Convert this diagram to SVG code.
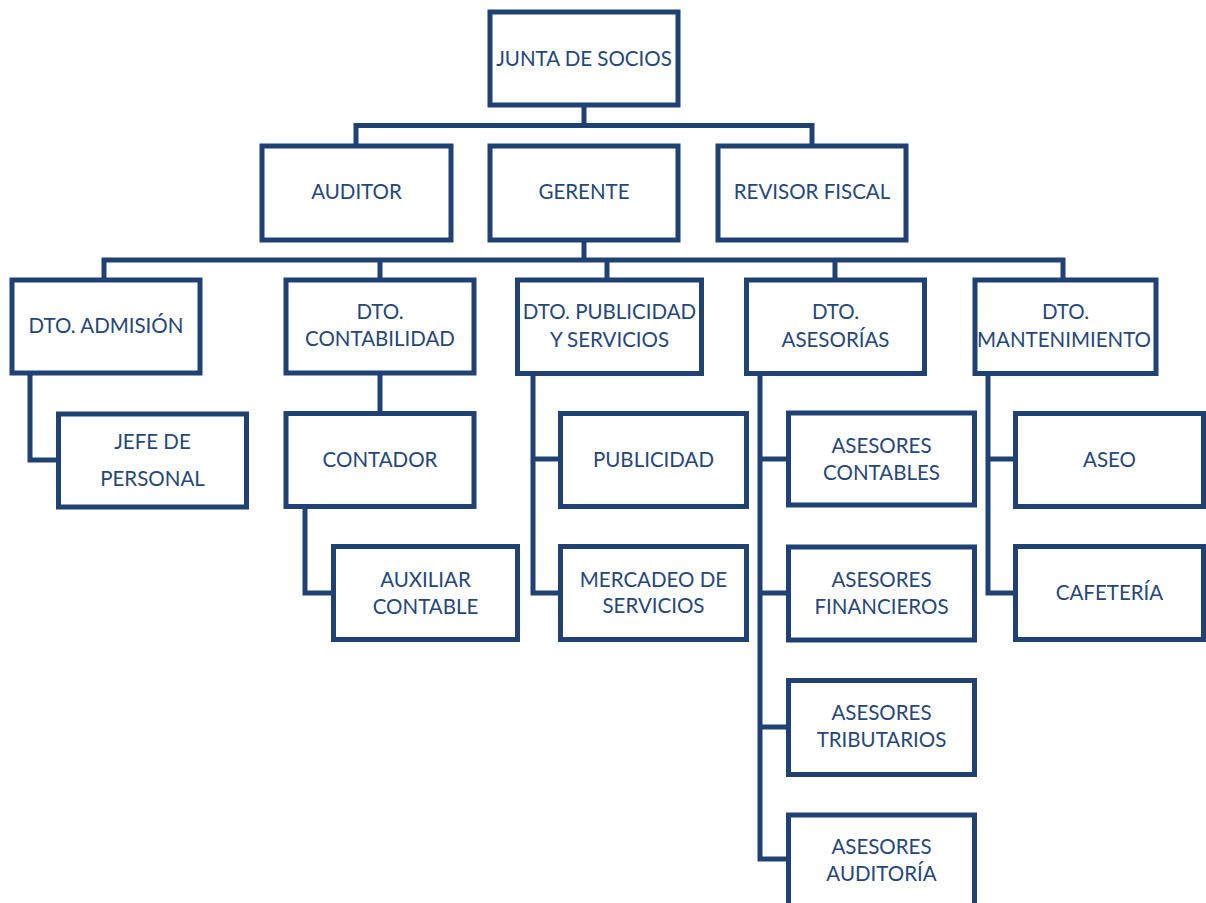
<svg xmlns="http://www.w3.org/2000/svg" width="1206" height="903" viewBox="0 0 1206 903">
<style>
.box{fill:#ffffff;stroke:#1f4174;stroke-width:5}
.con{fill:none;stroke:#1f4174;stroke-width:5;stroke-linejoin:miter;stroke-linecap:square}
text{font-family:Lato,"Open Sans","Liberation Sans",sans-serif;font-size:20.5px;fill:#26477a;text-anchor:middle}
</style>
<rect width="1206" height="903" fill="#ffffff"/>
<g id="connectors">
<path class="con" d="M584,105 V125.5 M356,146 V125.5 H812 V146"/>
<path class="con" d="M584,240 V260 M104,280 V260 H1063 V280 M380,260 V280 M607,260 V280 M835,260 V280"/>
<path class="con" d="M30,373 V460 H58"/>
<path class="con" d="M380,373 V413"/>
<path class="con" d="M305,506 V593 H333"/>
<path class="con" d="M533,373 V593 H560 M533,459 H560"/>
<path class="con" d="M760,373 V859 H788 M760,459 H788 M760,593 H788 M760,727 H788"/>
<path class="con" d="M988,373 V593 H1015 M988,459 H1015"/>
</g>
<g id="junta"><rect class="box" x="490" y="12" width="188" height="93"/><text x="584" y="66">JUNTA DE SOCIOS</text></g>
<g id="auditor"><rect class="box" x="262" y="146" width="189" height="94"/><text x="356.5" y="199">AUDITOR</text></g>
<g id="gerente"><rect class="box" x="490" y="146" width="188" height="94"/><text x="584" y="199">GERENTE</text></g>
<g id="revisor"><rect class="box" x="718" y="146" width="188" height="94"/><text x="812" y="199">REVISOR FISCAL</text></g>
<g id="dto-admision"><rect class="box" x="12" y="280" width="188" height="93"/><text x="106" y="333">DTO. ADMISIÓN</text></g>
<g id="dto-contabilidad"><rect class="box" x="286" y="280" width="188" height="93"/><text x="380" y="319">DTO.</text><text x="380" y="346">CONTABILIDAD</text></g>
<g id="dto-publicidad"><rect class="box" x="517.5" y="280" width="184" height="93.5"/><text x="609.5" y="319">DTO. PUBLICIDAD</text><text x="609.5" y="347">Y SERVICIOS</text></g>
<g id="dto-asesorias"><rect class="box" x="746.5" y="280" width="178" height="93.5"/><text x="835.5" y="319">DTO.</text><text x="835.5" y="347">ASESORÍAS</text></g>
<g id="dto-mantenimiento"><rect class="box" x="975" y="280" width="181" height="93.5"/><text x="1065.5" y="319">DTO.</text><text x="1064" y="347">MANTENIMIENTO</text></g>
<g id="jefe"><rect class="box" x="58.5" y="414" width="188" height="93"/><text x="152.5" y="449">JEFE DE</text><text x="152.5" y="486">PERSONAL</text></g>
<g id="contador"><rect class="box" x="286" y="413.5" width="188" height="93"/><text x="380" y="467">CONTADOR</text></g>
<g id="auxiliar"><rect class="box" x="333.5" y="546.5" width="184" height="93"/><text x="425.5" y="587">AUXILIAR</text><text x="425.5" y="614">CONTABLE</text></g>
<g id="publicidad"><rect class="box" x="560.5" y="413.5" width="186" height="93"/><text x="653.5" y="467">PUBLICIDAD</text></g>
<g id="mercadeo"><rect class="box" x="560.5" y="546.5" width="186" height="93"/><text x="653.5" y="587">MERCADEO DE</text><text x="653.5" y="613">SERVICIOS</text></g>
<g id="ases-contables"><rect class="box" x="788.5" y="413" width="186" height="92"/><text x="881.5" y="453">ASESORES</text><text x="881.5" y="480">CONTABLES</text></g>
<g id="ases-financieros"><rect class="box" x="788.5" y="547" width="186" height="93"/><text x="881.5" y="587">ASESORES</text><text x="881.5" y="614">FINANCIEROS</text></g>
<g id="ases-tributarios"><rect class="box" x="788.5" y="680.5" width="186" height="94"/><text x="881.5" y="720">ASESORES</text><text x="881.5" y="747">TRIBUTARIOS</text></g>
<g id="ases-auditoria"><rect class="box" x="788.5" y="815" width="186" height="94"/><text x="881.5" y="854">ASESORES</text><text x="881.5" y="881">AUDITORÍA</text></g>
<g id="aseo"><rect class="box" x="1015.5" y="413.5" width="188" height="93"/><text x="1109.5" y="467">ASEO</text></g>
<g id="cafeteria"><rect class="box" x="1015.5" y="546.5" width="188" height="93"/><text x="1109.5" y="600">CAFETERÍA</text></g>
</svg>
